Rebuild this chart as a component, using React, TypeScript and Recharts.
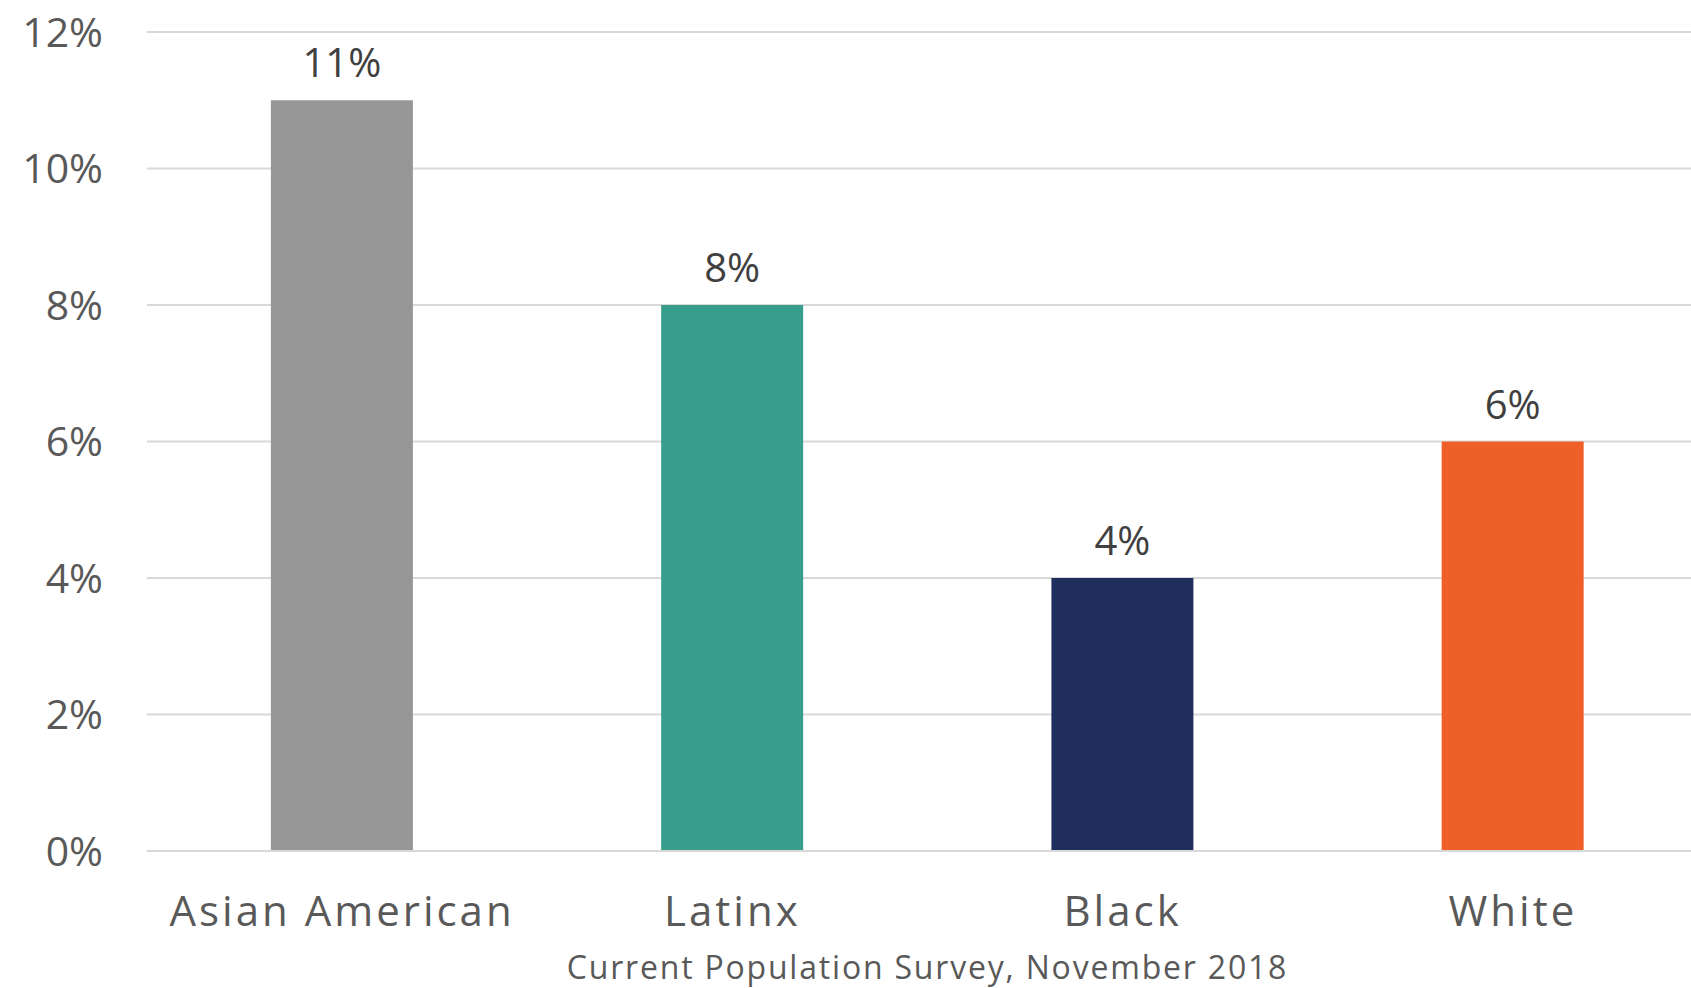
import React from 'react';
import { BarChart, Bar, XAxis, YAxis, CartesianGrid, Cell, LabelList, Label } from 'recharts';

const categories = ['Asian American', 'Latinx', 'Black', 'White'];
const values = [11, 8, 4, 6];
const colors = ['#969696', '#389d8a', '#1f2e5c', '#ef5f28'];
const yTicks = [0, 2, 4, 6, 8, 10, 12];
const subtitle = 'Current Population Survey, November 2018';

const data = categories.map((name, i) => ({ name, value: values[i] }));

const FONT = '"Open Sans", Lato, sans-serif';

export default function App() {
  return (
    <div style={{ position: 'absolute', left: 0, top: 0, width: 1691, height: 988, overflow: 'hidden', background: '#fff' }}>
      <BarChart
        width={1720}
        height={988}
        data={data}
        margin={{ top: 32, right: 12, left: 0, bottom: 0 }}
        barCategoryGap="31.75%"
      >
        <CartesianGrid vertical={false} stroke="#d9d9d9" strokeWidth={2} />
        <YAxis
          width={147}
          domain={[0, 12]}
          ticks={yTicks}
          tickFormatter={(v: number) => `${v}%`}
          axisLine={false}
          tickLine={false}
          tickSize={0}
          tickMargin={44}
          tick={{ fill: '#595959', fontSize: 41, fontFamily: FONT }}
        />
        <XAxis
          dataKey="name"
          height={137}
          axisLine={{ stroke: '#d9d9d9', strokeWidth: 2 }}
          tickLine={false}
          tickSize={0}
          tickMargin={45}
          interval={0}
          tick={{ fill: '#595959', fontSize: 42, fontFamily: FONT, letterSpacing: 3 }}
        >
          <Label
            value={subtitle}
            position="insideBottom"
            offset={9}
            style={{ fill: '#595959', fontSize: 32, fontFamily: FONT, letterSpacing: 1.8 }}
          />
        </XAxis>
        <Bar dataKey="value" isAnimationActive={false}>
          {data.map((d, i) => (
            <Cell key={d.name} fill={colors[i]} />
          ))}
          <LabelList
            dataKey="value"
            position="top"
            offset={23}
            formatter={(v: number) => `${v}%`}
            style={{ fill: '#404040', fontSize: 40, fontFamily: FONT }}
          />
        </Bar>
      </BarChart>
    </div>
  );
}
